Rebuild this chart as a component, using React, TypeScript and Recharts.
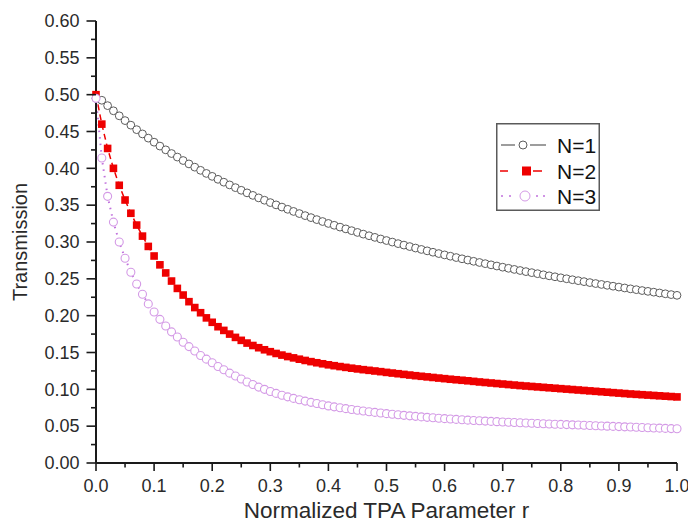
import React from 'react';
import { LineChart, Line, XAxis, YAxis, Legend, Label } from 'recharts';

const rValues = [
  0.0, 0.01, 0.02, 0.03, 0.04, 0.05, 0.06, 0.07, 0.08, 0.09,
  0.1, 0.11, 0.12, 0.13, 0.14, 0.15, 0.16, 0.17, 0.18, 0.19,
  0.2, 0.21, 0.22, 0.23, 0.24, 0.25, 0.26, 0.27, 0.28, 0.29,
  0.3, 0.31, 0.32, 0.33, 0.34, 0.35, 0.36, 0.37, 0.38, 0.39,
  0.4, 0.41, 0.42, 0.43, 0.44, 0.45, 0.46, 0.47, 0.48, 0.49,
  0.5, 0.51, 0.52, 0.53, 0.54, 0.55, 0.56, 0.57, 0.58, 0.59,
  0.6, 0.61, 0.62, 0.63, 0.64, 0.65, 0.66, 0.67, 0.68, 0.69,
  0.7, 0.71, 0.72, 0.73, 0.74, 0.75, 0.76, 0.77, 0.78, 0.79,
  0.8, 0.81, 0.82, 0.83, 0.84, 0.85, 0.86, 0.87, 0.88, 0.89,
  0.9, 0.91, 0.92, 0.93, 0.94, 0.95, 0.96, 0.97, 0.98, 0.99,
  1.0,
];

const seriesN1 = [
  0.495, 0.4924, 0.4851, 0.4781, 0.4713, 0.4648, 0.4586, 0.4525, 0.4467, 0.441,
  0.4355, 0.4302, 0.4251, 0.4201, 0.4153, 0.4106, 0.406, 0.4016, 0.3973, 0.3931,
  0.3891, 0.3851, 0.3812, 0.3775, 0.3738, 0.3702, 0.3667, 0.3633, 0.3599, 0.3567,
  0.3535, 0.3504, 0.3474, 0.3444, 0.3415, 0.3386, 0.3358, 0.3331, 0.3304, 0.3278,
  0.3252, 0.3227, 0.3202, 0.3178, 0.3154, 0.313, 0.3107, 0.3085, 0.3063, 0.3041,
  0.302, 0.2999, 0.2978, 0.2958, 0.2938, 0.2918, 0.2899, 0.288, 0.2861, 0.2843,
  0.2825, 0.2807, 0.2789, 0.2772, 0.2755, 0.2738, 0.2722, 0.2706, 0.269, 0.2674,
  0.2658, 0.2643, 0.2628, 0.2613, 0.2598, 0.2584, 0.257, 0.2555, 0.2541, 0.2528,
  0.2514, 0.2501, 0.2488, 0.2475, 0.2462, 0.2449, 0.2436, 0.2424, 0.2412, 0.24,
  0.2388, 0.2376, 0.2364, 0.2353, 0.2341, 0.233, 0.2319, 0.2308, 0.2297, 0.2286,
  0.2276,
];

const seriesN2 = [
  0.5, 0.46, 0.427, 0.4, 0.377, 0.357, 0.339, 0.323, 0.308, 0.294,
  0.281, 0.269, 0.258, 0.247, 0.237, 0.228, 0.219, 0.211, 0.204, 0.197,
  0.191, 0.185, 0.18, 0.175, 0.1705, 0.1665, 0.1628, 0.1595, 0.1565, 0.1537,
  0.1511, 0.1487, 0.1465, 0.1445, 0.1427, 0.1409, 0.1392, 0.1376, 0.1361, 0.1347,
  0.1333, 0.1321, 0.1309, 0.1298, 0.1287, 0.1277, 0.1267, 0.1258, 0.1249, 0.124,
  0.123, 0.1221, 0.1212, 0.1203, 0.1194, 0.1185, 0.1177, 0.1169, 0.1161, 0.1153,
  0.1145, 0.1137, 0.113, 0.1123, 0.1116, 0.1108, 0.11, 0.1093, 0.1086, 0.1079,
  0.1072, 0.1065, 0.1058, 0.1051, 0.1045, 0.1039, 0.1033, 0.1027, 0.1021, 0.1015,
  0.1009, 0.1003, 0.0997, 0.0991, 0.0985, 0.0979, 0.0973, 0.0967, 0.0961, 0.0955,
  0.0949, 0.0943, 0.0937, 0.0932, 0.0927, 0.0922, 0.0917, 0.0912, 0.0907, 0.0902,
  0.0897,
];

const seriesN3 = [
  0.495, 0.414, 0.362, 0.327, 0.3, 0.278, 0.259, 0.243, 0.229, 0.216,
  0.205, 0.195, 0.186, 0.178, 0.171, 0.164, 0.158, 0.152, 0.146, 0.141,
  0.136, 0.131, 0.1265, 0.122, 0.118, 0.114, 0.11, 0.1065, 0.103, 0.1,
  0.097, 0.0945, 0.092, 0.0898, 0.0877, 0.0858, 0.084, 0.0823, 0.0807, 0.0791,
  0.0775, 0.0762, 0.075, 0.0738, 0.0727, 0.0716, 0.0706, 0.0696, 0.0687, 0.0678,
  0.067, 0.0662, 0.0654, 0.0647, 0.064, 0.0633, 0.0626, 0.062, 0.0614, 0.0608,
  0.0602, 0.0597, 0.0592, 0.0587, 0.0582, 0.0577, 0.0573, 0.0569, 0.0565, 0.0561,
  0.0557, 0.0553, 0.0549, 0.0546, 0.0542, 0.0539, 0.0536, 0.0533, 0.053, 0.0527,
  0.0524, 0.0521, 0.0518, 0.0515, 0.0512, 0.0509, 0.0506, 0.0503, 0.05, 0.0497,
  0.0494, 0.0491, 0.0488, 0.0485, 0.0482, 0.0479, 0.0476, 0.0473, 0.047, 0.0467,
  0.0464,
];

const xTicks = [0, 0.05, 0.1, 0.15, 0.2, 0.25, 0.3, 0.35, 0.4, 0.45, 0.5, 0.55, 0.6, 0.65, 0.7, 0.75, 0.8, 0.85, 0.9, 0.95, 1.0];
const xMajorLabels = ['0.0', '0.1', '0.2', '0.3', '0.4', '0.5', '0.6', '0.7', '0.8', '0.9', '1.0'];
const yTicks = [0, 0.025, 0.05, 0.075, 0.1, 0.125, 0.15, 0.175, 0.2, 0.225, 0.25, 0.275, 0.3, 0.325, 0.35, 0.375, 0.4, 0.425, 0.45, 0.475, 0.5, 0.525, 0.55, 0.575, 0.6];
const yMajorLabels = ['0.00', '0.05', '0.10', '0.15', '0.20', '0.25', '0.30', '0.35', '0.40', '0.45', '0.50', '0.55', '0.60'];

const seriesNames = ['N=1', 'N=2', 'N=3'];

const data = rValues.map((r, i) => ({
  r,
  n1: seriesN1[i],
  n2: seriesN2[i],
  n3: seriesN3[i],
}));

const FONT = '"Liberation Sans", Arial, sans-serif';
const AXIS_COLOR = '#1a1a1a';
const TEXT_COLOR = '#2a2a2a';
const GRAY = '#5c5c5c';
const RED = '#ee0000';
const PINK = '#d49ae6';
const PINK_LINE = '#c070dc';

const XTick = (props: any) => {
  const { x, y, index } = props;
  const major = index % 2 === 0;
  return (
    <g>
      <line x1={x} y1={y} x2={x} y2={y + (major ? 8 : 4.5)} stroke={AXIS_COLOR} strokeWidth={1.6} />
      {major && (
        <text x={x} y={y + 28.5} textAnchor="middle" fontSize={18} fill={TEXT_COLOR} fontFamily={FONT}>
          {xMajorLabels[index / 2]}
        </text>
      )}
    </g>
  );
};

const YTick = (props: any) => {
  const { x, y, index } = props;
  const major = index % 2 === 0;
  return (
    <g>
      <line x1={x} y1={y} x2={x - (major ? 9.5 : 5)} y2={y} stroke={AXIS_COLOR} strokeWidth={1.6} />
      {major && (
        <text x={x - 16.5} y={y + 6.3} textAnchor="end" fontSize={18} fill={TEXT_COLOR} fontFamily={FONT}>
          {yMajorLabels[index / 2]}
        </text>
      )}
    </g>
  );
};

const GrayDot = (props: any) => {
  const { cx, cy, index } = props;
  return <circle key={`g${index}`} cx={cx} cy={cy} r={3.9} fill="#fff" stroke={GRAY} strokeWidth={1} />;
};

const RedSquare = (props: any) => {
  const { cx, cy, index } = props;
  return <rect key={`s${index}`} x={cx - 3.8} y={cy - 3.8} width={7.6} height={7.6} fill={RED} stroke="none" />;
};

const PinkDot = (props: any) => {
  const { cx, cy, index } = props;
  return <circle key={`p${index}`} cx={cx} cy={cy} r={4} fill="#fff" stroke={PINK} strokeWidth={1.1} />;
};

const LegendBox = () => {
  const rowY = [22, 48, 73];
  return (
    <svg width={104} height={88} style={{ display: 'block' }}>
      <rect x={0.75} y={0.75} width={102.5} height={86.5} fill="#fff" stroke="#5a5a5a" strokeWidth={1.5} />
      <line x1={5} y1={rowY[0]} x2={19} y2={rowY[0]} stroke={GRAY} strokeWidth={1.2} />
      <line x1={34} y1={rowY[0]} x2={50} y2={rowY[0]} stroke={GRAY} strokeWidth={1.2} />
      <circle cx={27} cy={rowY[0]} r={4} fill="#fff" stroke={GRAY} strokeWidth={1} />
      <line x1={4} y1={rowY[1]} x2={12} y2={rowY[1]} stroke={RED} strokeWidth={1.5} />
      <rect x={26} y={rowY[1] - 4.5} width={9} height={9} fill={RED} />
      <line x1={37} y1={rowY[1]} x2={46} y2={rowY[1]} stroke={RED} strokeWidth={1.5} />
      {[6, 14, 41, 48].map((d) => (
        <circle key={d} cx={d} cy={rowY[2]} r={1} fill={PINK_LINE} />
      ))}
      <circle cx={29} cy={rowY[2]} r={5} fill="#fff" stroke={PINK} strokeWidth={1} />
      {seriesNames.map((n, i) => (
        <text key={n} x={61} y={rowY[i] + 7.5} fontSize={21} fill="#111" fontFamily={FONT}>
          {n}
        </text>
      ))}
    </svg>
  );
};

export default function App() {
  return (
    <div style={{ position: 'absolute', left: 0, top: 0, width: 688, height: 526, background: '#fff' }}>
      <LineChart width={688} height={526} data={data} margin={{ top: 21, right: 11, bottom: 0, left: 0 }}>
        <XAxis
          dataKey="r"
          type="number"
          domain={[0, 1]}
          ticks={xTicks}
          interval={0}
          height={63}
          tickSize={0}
          tickMargin={0}
          tickLine={false}
          tick={<XTick />}
          axisLine={{ stroke: AXIS_COLOR, strokeWidth: 2 }}
        >
          <Label
            value="Normalized TPA Parameter r"
            position="insideBottom"
            offset={8}
            style={{ fontSize: 22.5, fill: TEXT_COLOR, fontFamily: FONT }}
          />
        </XAxis>
        <YAxis
          type="number"
          domain={[0, 0.6]}
          ticks={yTicks}
          interval={0}
          width={96}
          tickSize={0}
          tickMargin={0}
          tickLine={false}
          tick={<YTick />}
          axisLine={{ stroke: AXIS_COLOR, strokeWidth: 2 }}
        >
          <Label
            value="Transmission"
            angle={-90}
            position="insideLeft"
            offset={20}
            style={{ fontSize: 20, fill: TEXT_COLOR, fontFamily: FONT, textAnchor: 'middle' }}
          />
        </YAxis>
        <Legend
          layout="vertical"
          align="center"
          verticalAlign="middle"
          wrapperStyle={{ position: 'absolute', left: 496, top: 123, width: 104, height: 88 }}
          content={<LegendBox />}
        />
        <Line
          name={seriesNames[1]}
          dataKey="n2"
          stroke={RED}
          strokeWidth={1.5}
          strokeDasharray="6 4"
          dot={<RedSquare />}
          isAnimationActive={false}
        />
        <Line
          name={seriesNames[0]}
          dataKey="n1"
          stroke={GRAY}
          strokeWidth={1}
          dot={<GrayDot />}
          isAnimationActive={false}
        />
        <Line
          name={seriesNames[2]}
          dataKey="n3"
          stroke={PINK_LINE}
          strokeWidth={2}
          strokeDasharray="1.5 5"
          dot={<PinkDot />}
          isAnimationActive={false}
        />
      </LineChart>
    </div>
  );
}
